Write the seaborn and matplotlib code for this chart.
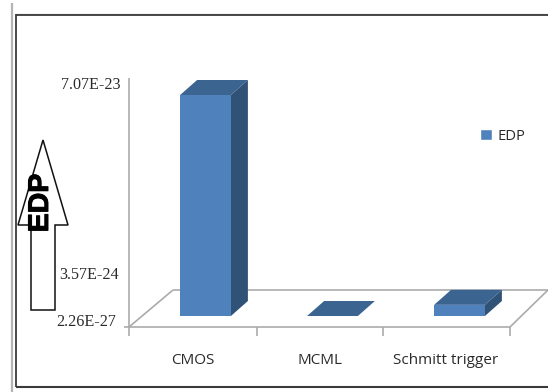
import matplotlib
matplotlib.use("Agg")
import matplotlib.pyplot as plt
import matplotlib.patheffects as pe
from matplotlib.patches import Polygon, Rectangle
from matplotlib.lines import Line2D
import seaborn as sns

categories = ["CMOS", "MCML", "Schmitt trigger"]
edp_values = [7.07e-23, 2.26e-27, 3.57e-24]
value_labels = ["7.07E-23", "3.57E-24", "2.26E-27"]
series_name = "EDP"

FRONT = "#4F81BD"
TOP = "#3C6491"
SIDE = "#315277"
GRID = "#ABABAB"
W, H = 548, 392

sns.set_theme(style="white")
fig = plt.figure(figsize=(W / 100, H / 100), dpi=100, facecolor="white")

# Full-figure layer in pixel units for the frame, floor and annotations
layer = fig.add_axes([0, 0, 1, 1], zorder=1)
layer.set_xlim(0, W)
layer.set_ylim(H, 0)
layer.axis("off")


def seg(xs, ys, color=GRID, lw=1.2):
    layer.add_line(Line2D(xs, ys, color=color, lw=lw, solid_capstyle="butt"))


# Page rule and chart frame
seg([12, 12], [3, 392], "#B4B4B4", 1.6)
seg([16, 548], [13.5, 13.5], "#C4C4C4", 1.0)
seg([16, 16], [14, 387], "#3A3A3A", 1.3)
seg([16, 548], [14.5, 14.5], "#3A3A3A", 1.3)
seg([16, 548], [387, 387], "#3A3A3A", 1.5)

# Value axis and perspective floor
seg([129, 129], [78, 336])
seg([124, 510], [327, 327])
seg([129, 173], [327, 290])
seg([173, 548], [290, 290])
seg([510, 548], [327, 290])
for tx in (256.5, 383, 510):
    seg([tx, tx], [327, 336])

# Tick text
for lab, ty, tx in zip(value_labels, (85, 275, 322), (120, 119, 116)):
    layer.text(tx, ty, lab, ha="right", va="center", family="Liberation Serif",
               fontsize=11.6, color="#2A2A2A")
for lab, tx in zip(categories, (192.5, 320, 446)):
    layer.text(tx, 361, lab, ha="center", va="center", family="Open Sans",
               fontsize=11, color="#2A2A2A")

# Hollow upward arrow with its rotated caption
layer.add_patch(Polygon(
    [(43, 140), (68, 225), (55, 225), (55, 310), (31, 310), (31, 225), (18, 225)],
    closed=True, fc="white", ec="#111111", lw=1.1))
caption = layer.text(41, 203, series_name, rotation=90, ha="center", va="center",
                     family="Liberation Sans", fontweight="bold", fontsize=20.5,
                     color="black", zorder=5)
caption.set_path_effects([pe.withStroke(linewidth=0.7, foreground="black")])

# Bars: 127 px per category, baseline at y=316, 221 px for the tallest value
axes_left, axes_right = 142, 523
axes_bottom, axes_top = 316, 70
px_per_value = (316 - 95) / max(edp_values)
ax = fig.add_axes([axes_left / W, 1 - axes_bottom / H,
                   (axes_right - axes_left) / W, (axes_bottom - axes_top) / H], zorder=2)
ax.patch.set_alpha(0)
sns.barplot(x=categories, y=edp_values, color=FRONT, saturation=1, width=0.4,
            ax=ax, zorder=3, linewidth=0, edgecolor="none", label=series_name)
ax.set_xlim(-0.5, 2.5)
ax.set_ylim(0, (axes_bottom - axes_top) / px_per_value)
ax.axis("off")

# Extruded top and side faces derived from each bar rectangle
dx = 17 * 3 / (axes_right - axes_left)
dy = 15 / px_per_value
for bar in list(ax.patches):
    x0, x1 = bar.get_x(), bar.get_x() + bar.get_width()
    y1 = bar.get_height()
    ax.add_patch(Polygon([(x0, y1), (x1, y1), (x1 + dx, y1 + dy), (x0 + dx, y1 + dy)],
                         closed=True, fc=TOP, ec="none", zorder=2, clip_on=False))
    ax.add_patch(Polygon([(x1, 0), (x1 + dx, dy), (x1 + dx, y1 + dy), (x1, y1)],
                         closed=True, fc=SIDE, ec="none", zorder=2, clip_on=False))

# Legend
ax.legend(handles=[Rectangle((0, 0), 1, 1, fc=FRONT)], labels=[series_name],
          loc="center left", bbox_to_anchor=(480, 136), bbox_transform=layer.transData,
          frameon=False, handlelength=0.8, handleheight=0.8, handletextpad=0.4,
          borderpad=0, borderaxespad=0,
          prop={"family": "Open Sans", "size": 10.6}, labelcolor="#2A2A2A")

fig.savefig("out.png", dpi=100, facecolor="white")
